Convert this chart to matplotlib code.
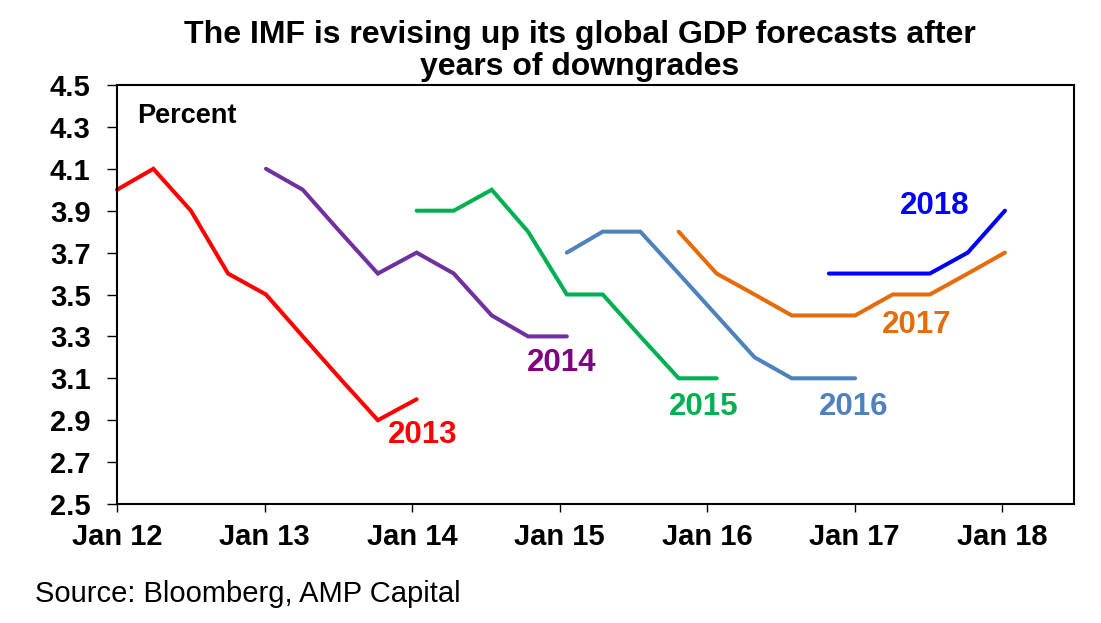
import matplotlib
matplotlib.use("Agg")
import matplotlib.pyplot as plt
import pandas as pd

# ---- data (IMF global GDP growth forecasts, percent) ----
# dates of the forecast rounds as placed on the chart's time axis
release_dates = ["2012-01-01", "2012-03-31", "2012-07-02", "2012-10-02",
                 "2013-01-04", "2013-04-05", "2013-07-06", "2013-10-08",
                 "2014-01-12", "2014-04-14", "2014-07-17", "2014-10-15",
                 "2015-01-19", "2015-04-18", "2015-07-20", "2015-10-23",
                 "2016-01-25", "2016-04-28", "2016-07-29", "2016-10-29",
                 "2017-01-02", "2017-04-05", "2017-07-06", "2017-10-08",
                 "2018-01-08"]

series_names = ["2013", "2014", "2015", "2016", "2017", "2018"]
series_first_round = [0, 4, 8, 12, 15, 19]   # index into release_dates
f2013 = [4.0, 4.1, 3.9, 3.6, 3.5, 3.3, 3.1, 2.9, 3.0]
f2014 = [4.1, 4.0, 3.8, 3.6, 3.7, 3.6, 3.4, 3.3, 3.3]
f2015 = [3.9, 3.9, 4.0, 3.8, 3.5, 3.5, 3.3, 3.1, 3.1]
f2016 = [3.7, 3.8, 3.8, 3.6, 3.4, 3.2, 3.1, 3.1, 3.1]
f2017 = [3.8, 3.6, 3.5, 3.4, 3.4, 3.4, 3.5, 3.5, 3.6, 3.7]
f2018 = [3.6, 3.6, 3.6, 3.6, 3.7, 3.9]
series_values = [f2013, f2014, f2015, f2016, f2017, f2018]

xtick_dates = ["2012-01-01", "2013-01-01", "2014-01-01", "2015-01-01",
               "2016-01-01", "2017-01-01", "2018-01-01"]
xtick_labels = ["Jan 12", "Jan 13", "Jan 14", "Jan 15", "Jan 16", "Jan 17", "Jan 18"]
ytick_values = [2.5, 2.7, 2.9, 3.1, 3.3, 3.5, 3.7, 3.9, 4.1, 4.3, 4.5]

# ---- styling ----
line_colors = ["#FF0000", "#7030A0", "#00B050", "#4F81BD", "#E46C0A", "#0000FF"]
label_colors = ["#FF0000", "#800080", "#00B050", "#4F81BD", "#E46C0A", "#0000FF"]
label_pos = [(0.3197, 0.1456), (0.4645, 0.3174), (0.6134, 0.2124),
             (0.770, 0.2136), (0.836, 0.408), (0.854, 0.692)]

plt.rcParams['font.family'] = ['Liberation Sans', 'DejaVu Sans']

fig = plt.figure(figsize=(11.01, 6.23), dpi=100)
ax = fig.add_axes([117/1101, 1 - 504/623, (1074 - 117)/1101, (504 - 85)/623])

all_dates = pd.to_datetime(release_dates)
for name, i0, vals, lc in zip(series_names, series_first_round, series_values, line_colors):
    x = all_dates[i0:i0 + len(vals)]
    ax.plot(x, vals, color=lc, linewidth=2.9, solid_capstyle="round",
            solid_joinstyle="miter", clip_on=False)

for name, (lx, ly), c in zip(series_names, label_pos, label_colors):
    ax.text(lx, ly, name, transform=ax.transAxes, ha="center", va="baseline",
            color=c, fontsize=22.5, fontweight="bold")

ax.text(0.0209, 0.909, "Percent", transform=ax.transAxes, ha="left", va="baseline",
        fontsize=19.5, fontweight="bold", color="black")

ax.set_ylim(2.5, 4.5)
ax.set_yticks(ytick_values)
ax.set_yticklabels([f"{v:.1f}" for v in ytick_values])
ax.set_xlim(pd.Timestamp("2012-01-01"), pd.Timestamp("2018-06-28"))
ax.set_xticks([pd.Timestamp(d) for d in xtick_dates])
ax.set_xticklabels(xtick_labels)

for lab in ax.get_xticklabels() + ax.get_yticklabels():
    lab.set_fontweight("bold")
    lab.set_fontsize(21)

ax.tick_params(axis="y", direction="out", length=7, width=1, pad=12, colors="black")
ax.tick_params(axis="x", direction="out", length=6, width=1, pad=7.5, colors="black")
for s in ax.spines.values():
    s.set_linewidth(1.5)
    s.set_color("black")

fig.text(580/1101, 1 - 51/623, "The IMF is revising up its global GDP forecasts after\nyears of downgrades",
         ha="center", va="center", fontsize=23, fontweight="bold", linespacing=1.05)

fig.text(35/1101, 21/623, "Source: Bloomberg, AMP Capital", ha="left", va="baseline",
         fontsize=21, color="black")

fig.savefig("out.png", dpi=100)
